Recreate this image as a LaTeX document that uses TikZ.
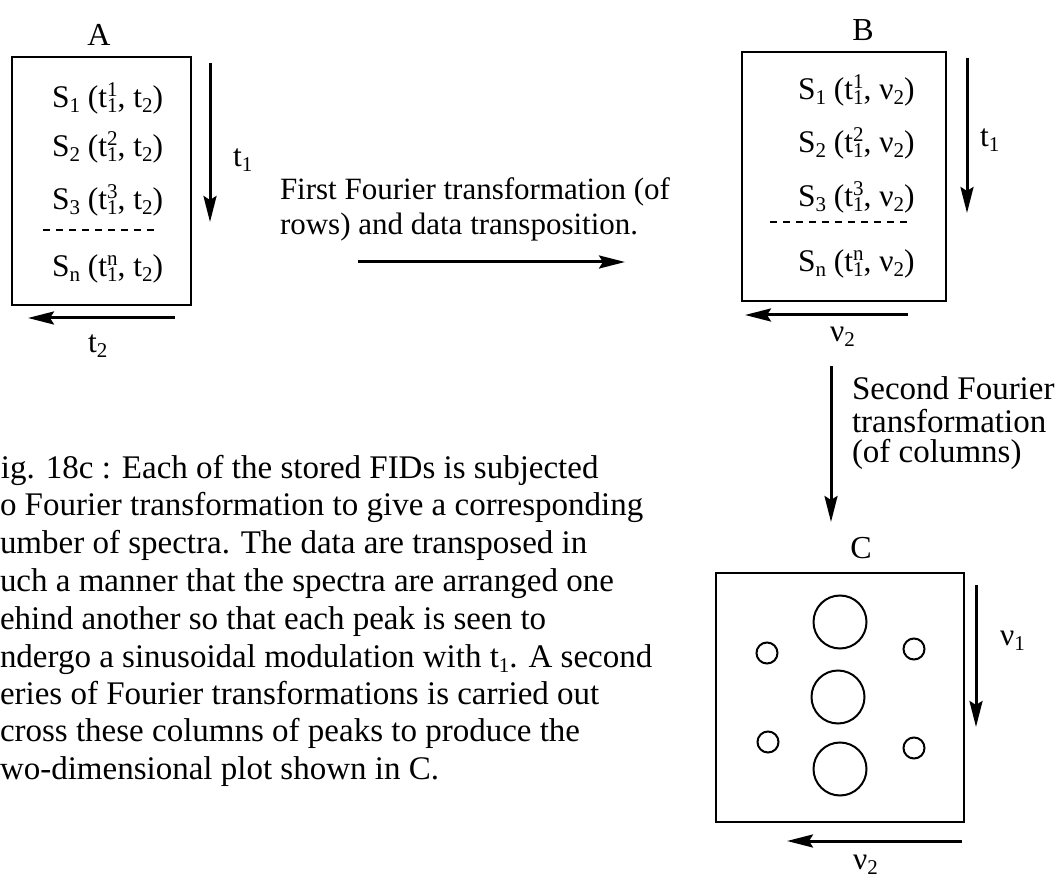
\documentclass[tikz,border=0pt]{standalone}
\usepackage{fontspec}
\setmainfont{Liberation Serif}
\usetikzlibrary{arrows.meta}
\newcommand\sbx[1]{\raisebox{-5pt}{\fontsize{21}{21}\selectfont #1}}
\newcommand\spx[1]{\raisebox{11pt}{\fontsize{21}{21}\selectfont #1}}
\newcommand\tts[3]{#1\rlap{\spx{#3}}\sbx{#2}}
\begin{document}
\begin{tikzpicture}[x=1pt,y=-1pt,
  font=\fontsize{31.5}{32}\selectfont,
  txt/.style={inner sep=0pt, outer sep=0pt, anchor=base west},
  lbl/.style={inner sep=0pt, outer sep=0pt, font=\fontsize{32}{32}\selectfont},
  mid/.style={txt, font=\fontsize{31}{32}\selectfont},
  sec/.style={txt, font=\fontsize{33}{32}\selectfont},
  captxt/.style={txt, font=\fontsize{33}{36}\selectfont},
  frame/.style={draw, line width=2pt, inner sep=0pt, outer sep=0pt},
  axis/.style={line width=3pt, -{Stealth[length=26pt,width=13pt,inset=4pt]}},
  sep/.style={line width=2.5pt, dash pattern=on 7pt off 6pt},
  peak/.style={draw, circle, line width=2pt, inner sep=0pt, outer sep=0pt}]
\useasboundingbox (0,0) rectangle (1063,874);

% ---------- Box A ----------
\node[lbl] (labA) at (99,35) {A};
\node[frame, minimum width=179pt, minimum height=248pt] (boxA) at (101.5,181) {};
\node[txt] (a1) at (52,108) {S\sbx{1} (\tts{t}{1}{1}, t\sbx{2})};
\node[txt] (a2) at (52,157) {S\sbx{2} (\tts{t}{1}{2}, t\sbx{2})};
\node[txt] (a3) at (52,210) {S\sbx{3} (\tts{t}{1}{3}, t\sbx{2})};
\node[txt] (an) at (52,277) {S\sbx{n} (\tts{t}{1}{n}, t\sbx{2})};
\coordinate (adl) at (43,230); \coordinate (adr) at (157,230);
\draw[sep] (adl) -- (adr);
\coordinate (at1s) at (210,63); \coordinate (at1e) at (210,222);
\draw[axis] (at1s) -- (at1e);
\node[txt] (at1) at (233,167) {t\sbx{1}};
\coordinate (at2s) at (175,318); \coordinate (at2e) at (28,318);
\draw[axis] (at2s) -- (at2e);
\node[txt] (at2) at (88,353) {t\sbx{2}};

% ---------- Middle text and arrow ----------
\node[mid] (m1) at (280,200) {First Fourier transformation (of};
\node[mid] (m2) at (280,235) {rows) and data transposition.};
\coordinate (ms) at (358,262); \coordinate (me) at (625,262);
\draw[axis] (ms) -- (me);

% ---------- Box B ----------
\node[lbl] (labB) at (863,30) {B};
\node[frame, minimum width=204pt, minimum height=249pt] (boxB) at (844,176.5) {};
\node[txt] (b1) at (798,100) {S\sbx{1} (\tts{t}{1}{1}, ν\sbx{2})};
\node[txt] (b2) at (798,153) {S\sbx{2} (\tts{t}{1}{2}, ν\sbx{2})};
\node[txt] (b3) at (798,207) {S\sbx{3} (\tts{t}{1}{3}, ν\sbx{2})};
\node[txt] (bn) at (798,272) {S\sbx{n} (\tts{t}{1}{n}, ν\sbx{2})};
\coordinate (bdl) at (770,222); \coordinate (bdr) at (912,222);
\draw[sep] (bdl) -- (bdr);
\coordinate (bt1s) at (967,58); \coordinate (bt1e) at (967,213);
\draw[axis] (bt1s) -- (bt1e);
\node[txt] (bt1) at (980,147) {t\sbx{1}};
\coordinate (bv2s) at (908,315); \coordinate (bv2e) at (745,315);
\draw[axis] (bv2s) -- (bv2e);
\node[txt] (bv2) at (830,342) {ν\sbx{2}};

% ---------- Second transformation ----------
\coordinate (ss) at (831,366); \coordinate (se) at (831,522);
\draw[axis] (ss) -- (se);
\node[sec] (s1) at (852,400) {Second Fourier};
\node[sec] (s2) at (852,432) {transformation};
\node[sec] (s3) at (852,462) {(of columns)};

% ---------- Box C ----------
\node[lbl] (labC) at (861,548) {C};
\node[frame, minimum width=248pt, minimum height=249pt] (boxC) at (840,697.5) {};
\node[peak, minimum size=53pt] (p1) at (840,622) {};
\node[peak, minimum size=53pt] (p2) at (838,697) {};
\node[peak, minimum size=53pt] (p3) at (840,769) {};
\node[peak, minimum size=21pt] (q1) at (767,653) {};
\node[peak, minimum size=21pt] (q2) at (914,649) {};
\node[peak, minimum size=21pt] (q3) at (768,742) {};
\node[peak, minimum size=21pt] (q4) at (914,748) {};
\coordinate (cv1s) at (976,585); \coordinate (cv1e) at (976,727);
\draw[axis] (cv1s) -- (cv1e);
\node[txt] (cv1) at (1000,645) {ν\sbx{1}};
\coordinate (cv2s) at (962,841); \coordinate (cv2e) at (787,841);
\draw[axis] (cv2s) -- (cv2e);
\node[txt] (cv2) at (853,869) {ν\sbx{2}};

% ---------- Caption ----------
\node[captxt] (c1) at (1,478) {ig. 18c : Each of the stored FIDs is subjected};
\node[captxt] (c2) at (0,515) {o Fourier transformation to give a corresponding};
\node[captxt] (c3) at (0,553) {umber of spectra. The data are transposed in};
\node[captxt] (c4) at (0,591) {uch a manner that the spectra are arranged one};
\node[captxt] (c5) at (0,629) {ehind another so that each peak is seen to};
\node[captxt] (c6) at (0,667) {ndergo a sinusoidal modulation with t\sbx{1}. A second};
\node[captxt] (c7) at (0,704) {eries of Fourier transformations is carried out};
\node[captxt] (c8) at (0,741) {cross these columns of peaks to produce the};
\node[captxt] (c9) at (0,779) {wo-dimensional plot shown in C.};
\end{tikzpicture}
\end{document}
